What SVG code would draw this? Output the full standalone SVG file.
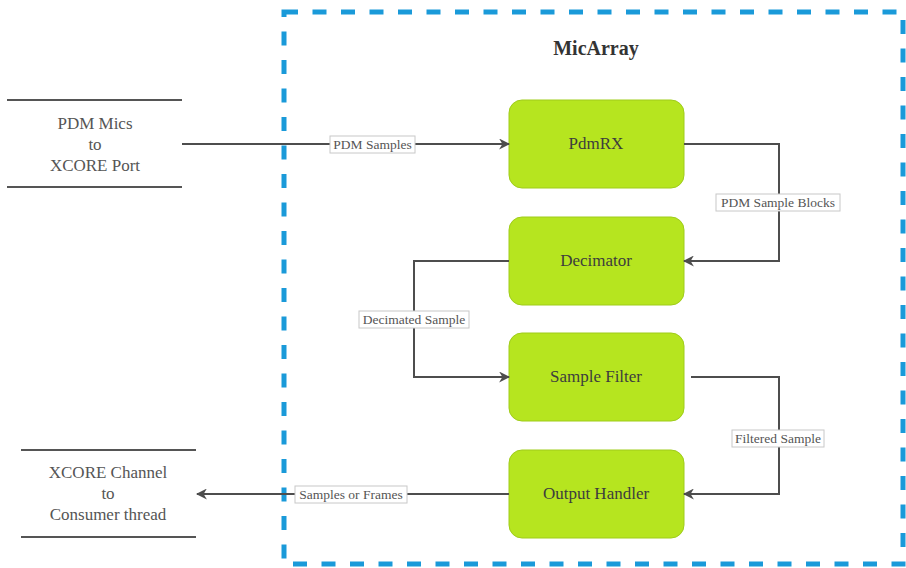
<svg xmlns="http://www.w3.org/2000/svg" width="906" height="568" viewBox="0 0 906 568">
<style>
.node rect{fill:#b6e51f;stroke:#9fcc1a;stroke-width:1}
.node text{font-family:"Liberation Serif",serif;font-size:17px;fill:#3d3d3d;text-anchor:middle;dominant-baseline:central}
.ext line{stroke:#555;stroke-width:2}
.ext text{font-family:"Liberation Serif",serif;font-size:17px;fill:#555;text-anchor:middle;dominant-baseline:central}
.conn path{fill:none;stroke:#4d4d4d;stroke-width:2}
.lbl rect{fill:#fff;stroke:#c8c8c8;stroke-width:1}
.lbl text{font-family:"Liberation Serif",serif;font-size:13.5px;fill:#555;text-anchor:middle;dominant-baseline:central}
</style>
<defs>
<marker id="arr" viewBox="0 0 10 10" refX="9" refY="5" markerWidth="11" markerHeight="11" markerUnits="userSpaceOnUse" orient="auto">
<path d="M0,0 L10,5 L0,10 L3,5 Z" fill="#4d4d4d"/>
</marker>
</defs>
<rect width="906" height="568" fill="#fff"/>
<g id="micarray">
<rect x="284" y="12" width="619" height="552" fill="none" stroke="#1a9ad9" stroke-width="5" stroke-dasharray="14 14.5"/>
<text x="596" y="48" font-family="Liberation Serif,serif" font-size="20" font-weight="bold" fill="#333" text-anchor="middle" dominant-baseline="central">MicArray</text>
</g>
<g id="pdm-mics" class="ext">
<line x1="7" y1="100" x2="182" y2="100"/>
<line x1="7" y1="187" x2="182" y2="187"/>
<text x="95" y="123">PDM Mics</text>
<text x="95" y="144">to</text>
<text x="95" y="165">XCORE Port</text>
</g>
<g id="consumer" class="ext">
<line x1="21" y1="450" x2="196" y2="450"/>
<line x1="21" y1="537" x2="196" y2="537"/>
<text x="108" y="472">XCORE Channel</text>
<text x="108" y="493">to</text>
<text x="108" y="514">Consumer thread</text>
</g>
<g id="pdmrx" class="node"><rect x="509" y="100" width="175" height="88" rx="13"/><text x="596" y="143">PdmRX</text></g>
<g id="decimator" class="node"><rect x="509" y="217" width="175" height="88" rx="13"/><text x="596" y="260">Decimator</text></g>
<g id="sample-filter" class="node"><rect x="509" y="333" width="175" height="88" rx="13"/><text x="596" y="376">Sample Filter</text></g>
<g id="output-handler" class="node"><rect x="509" y="450" width="175" height="88" rx="13"/><text x="596" y="493">Output Handler</text></g>
<g id="connectors" class="conn">
<path d="M182,144 H509" marker-end="url(#arr)"/>
<path d="M684,144 H779 V261 H684" marker-end="url(#arr)"/>
<path d="M509,261 H414 V377 H509" marker-end="url(#arr)"/>
<path d="M691,377 H779 V494 H684" marker-end="url(#arr)"/>
<path d="M509,494 H197" marker-end="url(#arr)"/>
<g class="lbl">
<rect x="330" y="136" width="85" height="17"/><text x="372.5" y="144">PDM Samples</text>
<rect x="716" y="194" width="124" height="17"/><text x="778" y="202">PDM Sample Blocks</text>
<rect x="359" y="311" width="110" height="17"/><text x="414" y="319">Decimated Sample</text>
<rect x="732" y="430" width="92" height="17"/><text x="778" y="438">Filtered Sample</text>
<rect x="295" y="486" width="112" height="17"/><text x="351" y="494">Samples or Frames</text>
</g>
</g>
</svg>
